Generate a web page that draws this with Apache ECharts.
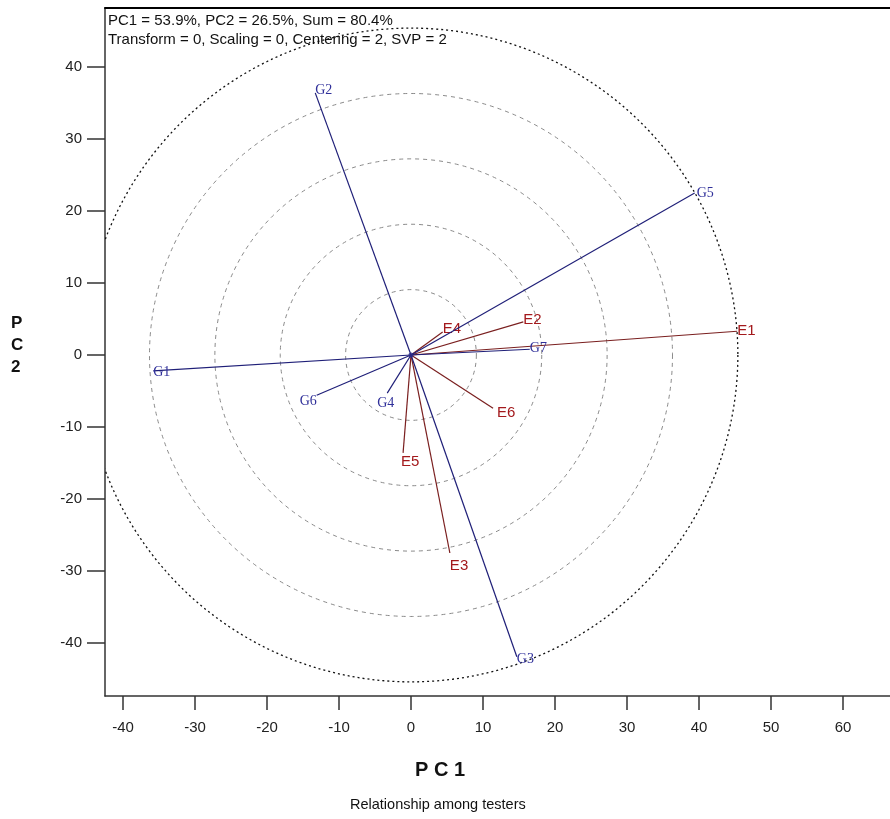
<!DOCTYPE html>
<html>
<head>
<meta charset="utf-8">
<script src="https://cdn.jsdelivr.net/npm/echarts@6/dist/echarts.min.js"></script>
<style>
html,body{margin:0;padding:0;background:#fff;}
#chart{width:890px;height:819px;}
</style>
</head>
<body>
<div id="chart"></div>
<script>
// ---- data ----
const xTicks = [-40, -30, -20, -10, 0, 10, 20, 30, 40, 50, 60];
const yTicks = [-40, -30, -20, -10, 0, 10, 20, 30, 40];
const genotypes = ['G1', 'G2', 'G3', 'G4', 'G5', 'G6', 'G7'];
const genoPC1 = [-35.8, -13.3, 14.7, -3.3, 39.4, -13.1, 16.5];
const genoPC2 = [-2.2, 36.4, -41.9, -5.3, 22.5, -5.6, 0.8];
const environments = ['E1', 'E2', 'E3', 'E4', 'E5', 'E6'];
const envPC1 = [45.3, 15.6, 5.4, 4.4, -1.1, 11.4];
const envPC2 = [3.3, 4.6, -27.5, 3.2, -13.6, -7.4];
const outerRadius = 45.4;
const innerRings = [1, 2, 3, 4];   // fractions (k/5) of the outer radius
const infoLines = ['PC1 = 53.9%, PC2 = 26.5%, Sum = 80.4%',
                   'Transform = 0, Scaling = 0, Centering = 2, SVP = 2'];

// ---- style-only label nudges (pixels) ----
const labelNudge = {
  G1:[0,1], G2:[0,-3], G3:[0,3], G4:[-10,10], G5:[2,0], G6:[-17,6], G7:[0,-1],
  E1:[0,0], E2:[0,-2], E3:[0,13], E4:[0,-3], E5:[-2,9], E6:[4,5]
};

const chart = echarts.init(document.getElementById('chart'), null, {renderer:'canvas'});

function vectorSeries(names, xs, ys, lineColor, textColor, font) {
  return {
    type: 'custom',
    coordinateSystem: 'cartesian2d',
    xAxisIndex: 0, yAxisIndex: 0,
    clip: true,
    z: 5,
    data: names.map((n, i) => [xs[i], ys[i]]),
    renderItem: function (params, api) {
      const o = api.coord([0, 0]);
      const p = api.coord([api.value(0), api.value(1)]);
      const name = names[params.dataIndex];
      const nd = labelNudge[name] || [0, 0];
      return {
        type: 'group',
        children: [
          {type: 'line', shape: {x1: o[0], y1: o[1], x2: p[0], y2: p[1]},
           style: {stroke: lineColor, lineWidth: 1.2}},
          {type: 'text', x: p[0] + nd[0], y: p[1] + nd[1],
           style: {text: name, fill: textColor, font: font, align: 'left', verticalAlign: 'middle'}}
        ]
      };
    }
  };
}

const ringSeries = {
  type: 'custom',
  coordinateSystem: 'cartesian2d',
  xAxisIndex: 0, yAxisIndex: 0,
  clip: true,
  z: 2,
  silent: true,
  data: innerRings.map(k => [outerRadius * k / 5]).concat([[outerRadius]]),
  renderItem: function (params, api) {
    const r = api.value(0);
    const c = api.coord([0, 0]);
    const rx = api.size([r, 0])[0];
    const isOuter = params.dataIndex === innerRings.length;
    return {
      type: 'circle',
      shape: {cx: c[0], cy: c[1], r: rx},
      style: isOuter
        ? {fill: 'none', stroke: '#111', lineWidth: 1.3, lineDash: [2, 3]}
        : {fill: 'none', stroke: '#8a8a8a', lineWidth: 1, lineDash: [4, 4]}
    };
  }
};

const originSeries = {
  type: 'scatter',
  xAxisIndex: 0, yAxisIndex: 0,
  data: [[0, 0]],
  symbolSize: 5,
  itemStyle: {color: '#2a2a8a'},
  z: 6,
  silent: true
};

const option = {
  animation: false,
  backgroundColor: '#fff',
  grid: {left: 105, top: 8, right: 0, height: 688, containLabel: false},
  xAxis: [{
    type: 'value',
    min: -42.5, max: 66.53,
    position: 'bottom',
    axisLine: {show: true, onZero: false, lineStyle: {color: '#333', width: 1.5}},
    axisTick: {show: true, inside: false, length: 14, customValues: xTicks, lineStyle: {color: '#333', width: 1.5}},
    axisLabel: {show: true, customValues: xTicks, margin: 24, color: '#222', fontFamily: 'Liberation Sans', fontSize: 15},
    splitLine: {show: false}
  }, {
    type: 'value',
    min: -42.5, max: 66.53,
    position: 'top',
    axisLine: {show: true, onZero: false, lineStyle: {color: '#000', width: 2}},
    axisTick: {show: false},
    axisLabel: {show: false},
    splitLine: {show: false}
  }],
  yAxis: [{
    type: 'value',
    min: -47.36, max: 48.19,
    axisLine: {show: true, onZero: false, lineStyle: {color: '#333', width: 1.5}},
    axisTick: {show: true, inside: false, length: 18, customValues: yTicks, lineStyle: {color: '#333', width: 1.5}},
    axisLabel: {show: true, customValues: yTicks, margin: 23, color: '#222', fontFamily: 'Liberation Sans', fontSize: 15},
    splitLine: {show: false}
  }],
  graphic: [
    {type: 'text', left: 108, top: 13, style: {text: infoLines[0], fill: '#111', font: '15px "Liberation Sans"'}},
    {type: 'text', left: 108, top: 32, style: {text: infoLines[1], fill: '#111', font: '15px "Liberation Sans"'}},
    {type: 'text', left: 11, top: 312, style: {text: 'P\nC\n2', fill: '#111', font: 'bold 17px "Liberation Sans"', lineHeight: 22, align: 'center'}},
    {type: 'text', left: 415, top: 760, style: {text: 'P C 1', fill: '#111', font: 'bold 20px "Liberation Sans"'}},
    {type: 'text', left: 350, top: 797, style: {text: 'Relationship among testers', fill: '#111', font: '14.5px "Liberation Sans"'}}
  ],
  series: [
    ringSeries,
    vectorSeries(environments, envPC1, envPC2, '#7a1f1f', '#a3191c', '15px "Liberation Sans"'),
    vectorSeries(genotypes, genoPC1, genoPC2, '#1f1f78', '#30309a', '14px "Liberation Serif"'),
    originSeries
  ]
};

chart.setOption(option);
</script>
</body>
</html>
